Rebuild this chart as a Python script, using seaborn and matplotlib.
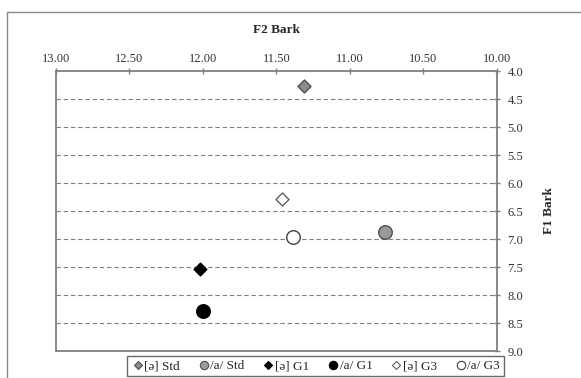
import matplotlib
matplotlib.use("Agg")
import matplotlib.pyplot as plt
from matplotlib.lines import Line2D
from matplotlib.patches import Rectangle
import seaborn as sns
import pandas as pd

sns.set_style("white")
plt.rcParams['font.family'] = ['Liberation Serif', 'DejaVu Serif']

labels = ["[ə] Std", "/a/ Std", "[ə] G1", "/a/ G1", "[ə] G3", "/a/ G3"]
f2 = [11.31, 10.76, 12.02, 12.00, 11.46, 11.39]
f1 = [4.26, 6.88, 7.54, 8.28, 6.29, 6.97]
markers = ["D", "o", "D", "o", "D", "o"]
faces = ["#8c8c8c", "#9a9a9a", "#000000", "#000000", "#ffffff", "#ffffff"]
edges = ["#505050", "#505050", "#000000", "#000000", "#606060", "#404040"]
sizes = [44, 95, 42, 95, 44, 95]

xticks = [13.0, 12.5, 12.0, 11.5, 11.0, 10.5, 10.0]
yticks = [4.0, 4.5, 5.0, 5.5, 6.0, 6.5, 7.0, 7.5, 8.0, 8.5, 9.0]

df = pd.DataFrame({"series": labels, "F2": f2, "F1": f1})

fig = plt.figure(figsize=(5.81, 3.78), dpi=100)
fig.patches.append(Rectangle((7 / 581, -0.1), 1.2, 1 - 12 / 378 + 0.1,
                             transform=fig.transFigure, fill=False,
                             edgecolor="#888888", linewidth=1.0, zorder=0))
ax = fig.add_axes([56 / 581, 1 - 351 / 378, 441 / 581, 280 / 378])

for i, lab in enumerate(labels):
    sub = df[df["series"] == lab]
    sns.scatterplot(data=sub, x="F2", y="F1", ax=ax, marker=markers[i],
                    color=faces[i], edgecolor=edges[i], linewidth=1.0,
                    s=sizes[i], zorder=5, legend=False)

ax.set_xlim(13.0, 10.0)
ax.set_ylim(9.0, 4.0)
ax.set_xticks(xticks)
ax.set_xticklabels([f"{v:.2f}" for v in xticks])
ax.set_yticks(yticks)
ax.set_yticklabels([f"{v:.1f}" for v in yticks])
ax.xaxis.tick_top()
ax.xaxis.set_label_position("top")
ax.yaxis.tick_right()
ax.yaxis.set_label_position("right")
ax.tick_params(axis="both", direction="inout", length=5, width=1.0,
               color="#808080", labelsize=9, labelcolor="#333333")
ax.tick_params(axis="x", pad=2)
ax.tick_params(axis="y", pad=5)
ax.set_xlabel("F2 Bark", fontsize=9.5, fontweight="bold", labelpad=14)
ax.set_ylabel("F1 Bark", fontsize=9.5, fontweight="bold", labelpad=14, rotation=90)
for sp in ax.spines.values():
    sp.set_color("#808080")
    sp.set_linewidth(1.3)
ax.grid(False)
for y in yticks[1:-1]:
    ax.axhline(y, color="#808080", linestyle=(0, (4, 2.5)), linewidth=0.8, zorder=1)

handles = []
for i, lab in enumerate(labels):
    handles.append(Line2D([], [], linestyle="none", marker=markers[i],
                          markersize=4.5 if markers[i] == "D" else 6,
                          markerfacecolor=faces[i], markeredgecolor=edges[i],
                          markeredgewidth=0.8, label=lab))
leg = fig.legend(handles=handles, loc="center", ncol=6,
                 bbox_to_anchor=(315.5 / 581, 1 - 366 / 378),
                 frameon=True, fancybox=False, fontsize=9.5, handletextpad=0.0,
                 columnspacing=1.3, handlelength=1.0, borderpad=0.3)
leg.get_frame().set_edgecolor("#444444")
leg.get_frame().set_linewidth(1.0)

fig.savefig("out.png", dpi=100)
